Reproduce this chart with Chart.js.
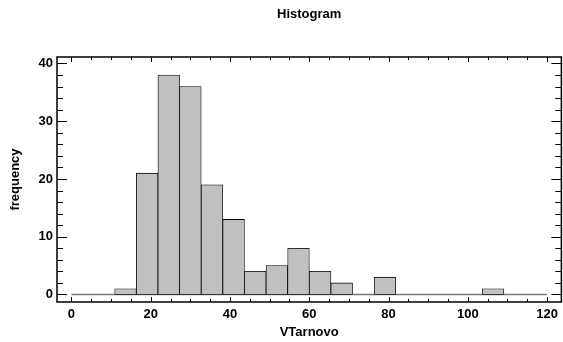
<!DOCTYPE html>
<html>
<head>
<meta charset="utf-8">
<script src="https://cdn.jsdelivr.net/npm/chart.js@4/dist/chart.umd.min.js"></script>
<style>
  html, body { margin: 0; padding: 0; background: #fff; }
  #wrap { width: 563px; height: 342px; }
</style>
</head>
<body>
<div id="wrap"><canvas id="hist" width="563" height="342"></canvas></div>
<script>
// bin edges of the VTarnovo histogram (22 bins over 0..120)
var binEdges = [0, 5.45, 10.91, 16.36, 21.82, 27.27, 32.73, 38.18, 43.64, 49.09, 54.55,
  60, 65.45, 70.91, 76.36, 81.82, 87.27, 92.73, 98.18, 103.64, 109.09, 114.55, 120];
// observations per bin
var counts = [0, 0, 1, 21, 38, 36, 19, 13, 4, 5, 8, 4, 2, 0, 3, 0, 0, 0, 0, 1, 0, 0];
var xTicks = [0, 20, 40, 60, 80, 100, 120];
var yTicks = [0, 10, 20, 30, 40];

var boldFont = { family: '"Liberation Sans", Arial, sans-serif', size: 13, weight: 'bold' };

/* box around the plot with inward tick marks on all four sides */
var frameTicks = {
  id: 'frameTicks',
  afterDraw: function (chart) {
    var ctx = chart.ctx, a = chart.chartArea;
    var xs = chart.scales.x, ys = chart.scales.y;
    var v, p, len;
    ctx.save();
    ctx.strokeStyle = '#000';
    ctx.lineWidth = 1;
    ctx.beginPath();
    for (v = xTicks[0]; v <= xTicks[xTicks.length - 1]; v += 5) {
      p = Math.round(xs.getPixelForValue(v)) + 0.5;
      len = xTicks.indexOf(v) >= 0 ? 5 : 3;
      ctx.moveTo(p, a.bottom); ctx.lineTo(p, a.bottom - len);
      ctx.moveTo(p, a.top); ctx.lineTo(p, a.top + len);
    }
    for (v = yTicks[0]; v <= yTicks[yTicks.length - 1]; v += 2) {
      p = Math.round(ys.getPixelForValue(v)) + 0.5;
      len = yTicks.indexOf(v) >= 0 ? 10 : 6;
      ctx.moveTo(a.left, p); ctx.lineTo(a.left + len, p);
      ctx.moveTo(a.right, p); ctx.lineTo(a.right - len, p);
    }
    ctx.stroke();
    ctx.lineWidth = 1.5;
    ctx.strokeRect(a.left, a.top, a.right - a.left, a.bottom - a.top);
    ctx.restore();
  }
};

var barData = counts.map(function (c, i) {
  return { x: (binEdges[i] + binEdges[i + 1]) / 2, y: c };
});

new Chart(document.getElementById('hist'), {
  data: {
    datasets: [
      {
        type: 'bar',
        data: barData,
        backgroundColor: '#c0c0c0',
        borderColor: '#000',
        borderWidth: 0.8,
        borderSkipped: false,
        barPercentage: 1,
        categoryPercentage: 1,
        order: 1
      },
      // baseline across the whole binned range
      {
        type: 'line',
        data: [{ x: binEdges[0], y: 0 }, { x: binEdges[binEdges.length - 1], y: 0 }],
        borderColor: '#7a7a7a',
        borderWidth: 1.5,
        pointRadius: 0,
        order: 2
      }
    ]
  },
  options: {
    responsive: false,
    animation: false,
    layout: { padding: { left: 0, right: 1, top: 0, bottom: 0 } },
    plugins: {
      legend: { display: false },
      tooltip: { enabled: false },
      title: {
        display: true,
        text: 'Histogram',
        fullSize: false,
        color: '#000',
        font: boldFont,
        padding: { top: 7, bottom: 34.4 }
      }
    },
    scales: {
      x: {
        type: 'linear',
        offset: false,
        min: -3.65,
        max: 123.6,
        grid: { display: false, drawTicks: false, offset: false },
        border: { display: false },
        afterBuildTicks: function (s) { s.ticks = xTicks.map(function (v) { return { value: v }; }); },
        afterFit: function (s) { s.height = 40; },
        ticks: { color: '#000', padding: 5, font: boldFont, maxRotation: 0 },
        title: { display: true, text: 'VTarnovo', color: '#000', font: boldFont, padding: { top: 0, bottom: 2 } }
      },
      y: {
        type: 'linear',
        min: -1.3,
        max: 41.12,
        grid: { display: false, drawTicks: false },
        border: { display: false },
        afterBuildTicks: function (s) { s.ticks = yTicks.map(function (v) { return { value: v }; }); },
        afterFit: function (s) { s.width = 57; },
        ticks: { color: '#000', padding: 4, font: boldFont },
        title: { display: true, text: 'frequency', color: '#000', font: boldFont, padding: { top: 7.7, bottom: 0 } }
      }
    }
  },
  plugins: [frameTicks]
});
</script>
</body>
</html>
